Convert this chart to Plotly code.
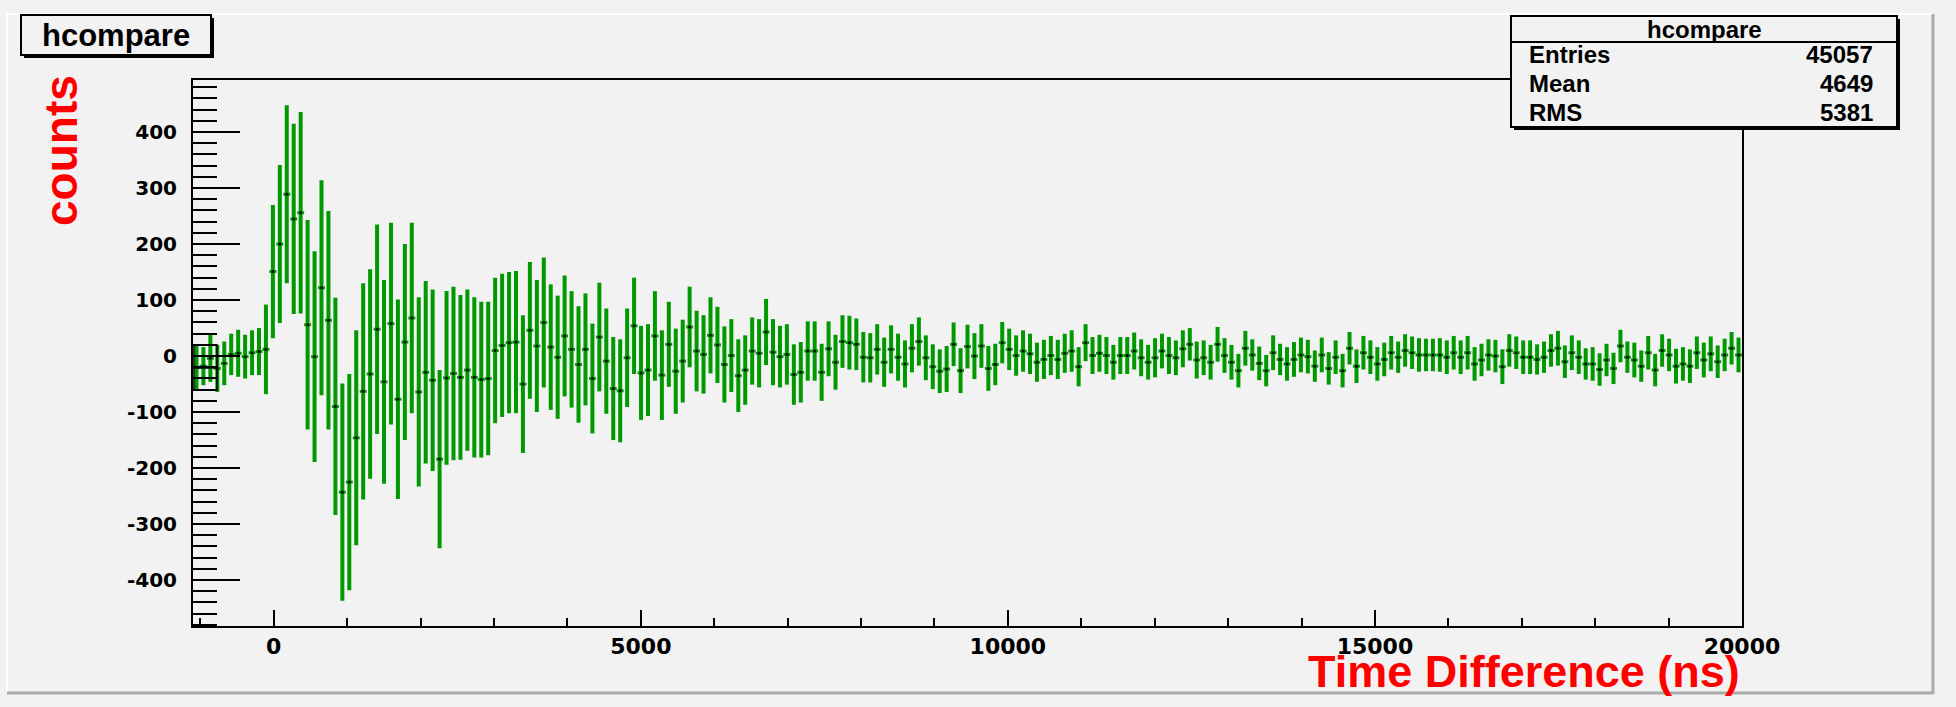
import plotly.graph_objects as go

# Histogram binning (ns)
x_min, x_max = -1100, 20000
n_bins = 223
bin_width = (x_max - x_min) / n_bins
bin_centers = [x_min + bin_width * (i + 0.5) for i in range(n_bins)]

# Bin contents (counts difference) and their errors
counts = [
    -20, -18, -4, -22, -13, 3, 5, -1, 6, 8, 12, 151, 200, 289, 245, 256, 56, -1, 122, 64,
    -90, -243, -225, -146, -63, -32, 48, -46, 58, -77, 25, 68, -64, -29, -43, -184, -39, -31, -38, -25,
    -38, -42, -40, 10, 19, 24,
    25, -50, 46, 18, 60, 16, -2, 36, 12, -15, 12, -40, 34, -9, -58, -62, -3, 54, -30, -25,
    36, -34, 21, -27, -9, 52, 9, 3, 37, 20, -15, 1, -35, -25, 9, 5, 43, 7, -1, 3,
    -33, -29, 9, 9, -29, 13, -11,
    26, 24, 21, -2, -3, 12, -11, 12, -2, -14, 14, 26, -3, -19, -27, -23, 21, -26, 17, 0,
    18, -22, -15, 24, 12, 1, 9, 4, -11, -6, 1, -6, 5, 9, -19, 24, 1, 5, 1, -11,
    1, 1, 9, -3, -11, -3, 9, 1, -3, 13, 21, -7, -3, -11, 21, 1, -11, -26,
    14, 2, -13, -26, 6, -6, -14, -6, 2, -1, -18, 2, -22, -2, -26, 14, -18, 6, -2, -14,
    -6, 6, -2, 10, 6, 2, 2, 2, 2, -2, 6, -2, 6, -14, -7, 2, 0, -19, 10, 6,
    -2, -2, -6, -2, 10, 14, -10, 6, -2, -14, -14, -24, -7, -22, 18, -2, -7, -18, 6, -25,
    10, 2, -18, -14, -18, 6, -7, 4, -10, 2, 14, 2,
]
errors = [
    40, 34, 42, 42, 39, 37, 42, 39, 40, 42, 80, 119, 141, 159, 170, 180, 187, 188, 192, 195,
    194, 194, 193, 192, 193, 187, 187, 182, 180, 178, 175, 170, 169, 163, 162, 159, 155, 155, 147, 144,
    143, 139, 137, 130, 128, 126,
    127, 123, 122, 118, 116, 112, 110, 108, 104, 104, 100, 98, 97, 94, 92, 92, 88, 86, 84, 82,
    80, 80, 76, 76, 74, 72, 72, 70, 68, 68, 68, 65, 65, 62, 60, 61, 59, 59, 55, 54,
    54, 54, 53, 53, 51, 49, 49,
    47, 48, 46, 45, 44, 45, 44, 43, 42, 42, 43, 43, 40, 40, 39, 41, 39, 40, 39, 41,
    39, 40, 37, 37, 37, 36, 37, 36, 35, 35, 35, 35, 35, 37, 35, 33, 33, 33, 33, 31,
    33, 33, 33, 33, 31, 35, 31, 33, 31, 33, 29, 33, 31, 31, 31, 31, 31, 30,
    31, 28, 30, 28, 31, 28, 30, 31, 31, 30, 28, 31, 29, 30, 30, 29, 30, 30, 30, 30,
    30, 30, 28, 29, 29, 30, 29, 29, 30, 30, 30, 30, 30, 30, 29, 28, 29, 31, 29, 29,
    30, 30, 27, 28, 29, 31, 29, 31, 30, 28, 30, 29, 29, 28, 29, 28, 31, 28, 30, 29,
    29, 29, 31, 30, 30, 29, 31, 31, 29, 29, 29, 31,
]

# Axis ticks
y_tick_vals = [-400, -300, -200, -100, 0, 100, 200, 300, 400]
y_tick_text = ["-400", "-300", "-200", "-100", "0", "100", "200", "300", "400"]
x_tick_vals = [0, 5000, 10000, 15000, 20000]
x_tick_text = ["0", "5000", "10000", "15000", "20000"]

# Statistics box
hist_name = "hcompare"
stat_labels = ["Entries", "Mean", "RMS"]
stat_values = ["45057", "4649", "5381"]

W, H = 1956, 707
L, R, T, B = 193, 1742, 80, 626
BG = "#f2f2f2"
GREEN = "#009900"


def fx(px):
    return (px - L) / (R - L)


def fy(py):
    return (B - py) / (B - T)


fig = go.Figure()
fig.add_trace(go.Scatter(
    x=bin_centers, y=counts, mode="markers",
    marker=dict(color="black", size=3),
    error_y=dict(type="data", array=errors, visible=True, color=GREEN, thickness=4, width=0),
    error_x=dict(type="constant", value=bin_width / 2, visible=True, color=GREEN, thickness=3, width=0),
    showlegend=False, hoverinfo="x+y",
))

shapes = []


def rect(x0, y0, x1, y1, **kw):
    shapes.append(dict(type="rect", xref="paper", yref="paper",
                       x0=fx(x0), x1=fx(x1), y0=fy(y0), y1=fy(y1), layer="above", **kw))


def line(x0, y0, x1, y1, color, width):
    shapes.append(dict(type="line", xref="paper", yref="paper",
                       x0=fx(x0), x1=fx(x1), y0=fy(y0), y1=fy(y1), layer="above",
                       line=dict(color=color, width=width)))


# canvas bevel
line(7, 14, 1932, 14, "white", 2)
line(7, 14, 7, 692, "white", 2)
line(1933, 14, 1933, 694, "#a9a9a9", 3)
line(7, 693, 1933, 693, "#a9a9a9", 3)

# title box with shadow
rect(24, 18, 214, 58, fillcolor="black", line=dict(width=0))
rect(21, 15, 211, 55, fillcolor=BG, line=dict(color="black", width=2))

# statistics box with shadow
rect(1514, 19, 1900, 130, fillcolor="black", line=dict(width=0))
rect(1511, 16, 1897, 127, fillcolor=BG, line=dict(color="black", width=2))
line(1511, 42, 1897, 42, "black", 2)

# small outline drawn over the first bins
rect(194, 345, 217, 390, fillcolor="rgba(0,0,0,0)", line=dict(color="black", width=1.5))
line(194, 368, 217, 368, "black", 1.5)

annotations = []


def text(s, x, y, size, xanchor="center", color="black", angle=0, family="Liberation Sans"):
    annotations.append(dict(
        text=s, x=fx(x), y=fy(y), xref="paper", yref="paper", showarrow=False,
        xanchor=xanchor, yanchor="middle", textangle=angle,
        font=dict(family=family, size=size, color=color, weight="bold"),
    ))


text(hist_name, 116, 35, 31)
text(hist_name, 1704, 29, 24)
for i, (lab, val) in enumerate(zip(stat_labels, stat_values)):
    yy = 55 + i * 28.5
    text(lab, 1527, yy, 24, xanchor="left")
    text(val, 1875, yy, 24, xanchor="right")

text("counts", 61, 151, 46, color="red", angle=-90)
text("Time Difference (ns)", 1742, 671, 45, xanchor="right", color="red")

y_tick_font = dict(family="DejaVu Sans", size=20, color="black", weight="bold")
x_tick_font = dict(family="DejaVu Sans", size=22, color="black", weight="bold")

fig.update_layout(
    width=W, height=H,
    margin=dict(l=L, r=W - R, t=T, b=H - B, pad=0),
    paper_bgcolor=BG, plot_bgcolor=BG,
    shapes=shapes, annotations=annotations,
    xaxis=dict(
        range=[x_min, x_max], tickmode="array", tickvals=x_tick_vals, ticktext=x_tick_text,
        ticks="inside", ticklen=16, tickwidth=2, tickcolor="black",
        minor=dict(tickmode="linear", tick0=0, dtick=1000, ticks="inside", ticklen=8,
                   tickwidth=2, tickcolor="black", showgrid=False),
        showline=True, linewidth=2, linecolor="black", mirror=True,
        showgrid=False, zeroline=False, tickfont=x_tick_font, ticklabelstandoff=0,
    ),
    yaxis=dict(
        range=[-482, 493], tickmode="array", tickvals=y_tick_vals, ticktext=y_tick_text,
        ticks="inside", ticklen=47, tickwidth=2, tickcolor="black",
        minor=dict(tickmode="linear", tick0=0, dtick=20, ticks="inside", ticklen=24,
                   tickwidth=2, tickcolor="black", showgrid=False),
        showline=True, linewidth=2, linecolor="black", mirror=True,
        showgrid=False, zeroline=False, tickfont=y_tick_font, ticklabelstandoff=10,
    ),
)

fig.write_html("out.html")
